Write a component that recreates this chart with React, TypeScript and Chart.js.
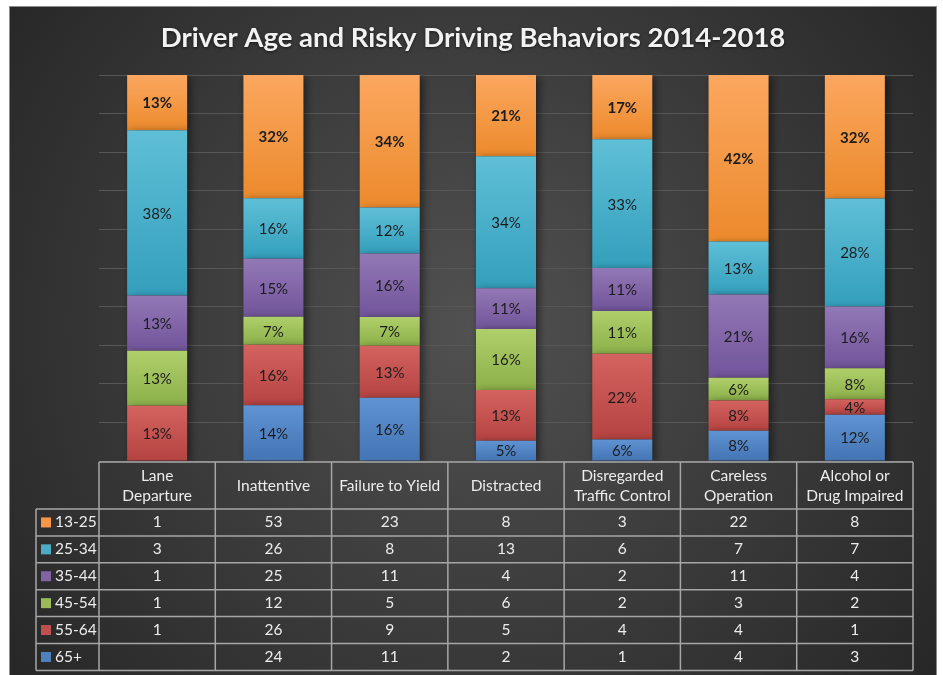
import React, { useEffect, useRef } from "react";
import { Chart, registerables } from "chart.js";

Chart.register(...registerables);

const chartTitle = "Driver Age and Risky Driving Behaviors 2014-2018";

const categories: string[][] = [
  ["Lane", "Departure"],
  ["Inattentive"],
  ["Failure to Yield"],
  ["Distracted"],
  ["Disregarded", "Traffic Control"],
  ["Careless", "Operation"],
  ["Alcohol or", "Drug Impaired"],
];

const ageGroups = ["13-25", "25-34", "35-44", "45-54", "55-64", "65+"];

const counts13_25: (number | null)[] = [1, 53, 23, 8, 3, 22, 8];
const counts25_34: (number | null)[] = [3, 26, 8, 13, 6, 7, 7];
const counts35_44: (number | null)[] = [1, 25, 11, 4, 2, 11, 4];
const counts45_54: (number | null)[] = [1, 12, 5, 6, 2, 3, 2];
const counts55_64: (number | null)[] = [1, 26, 9, 5, 4, 4, 1];
const counts65plus: (number | null)[] = [null, 24, 11, 2, 1, 4, 3];

const pctLabels13_25 = ["13%", "32%", "34%", "21%", "17%", "42%", "32%"];
const pctLabels25_34 = ["38%", "16%", "12%", "34%", "33%", "13%", "28%"];
const pctLabels35_44 = ["13%", "15%", "16%", "11%", "11%", "21%", "16%"];
const pctLabels45_54 = ["13%", "7%", "7%", "16%", "11%", "6%", "8%"];
const pctLabels55_64 = ["13%", "16%", "13%", "13%", "22%", "8%", "4%"];
const pctLabels65plus = ["", "14%", "16%", "5%", "6%", "8%", "12%"];

// table order (top to bottom)
const seriesCounts = [counts13_25, counts25_34, counts35_44, counts45_54, counts55_64, counts65plus];
const seriesLabels = [pctLabels13_25, pctLabels25_34, pctLabels35_44, pctLabels45_54, pctLabels55_64, pctLabels65plus];
const baseColors = ["#f79646", "#4bacc6", "#8064a2", "#9bbb59", "#c0504d", "#4f81bd"];
const topColors = ["#fba75f", "#5fbfd7", "#9378b6", "#afcf6a", "#d4625f", "#5f93d2"];
const bottomColors = ["#ec8a2c", "#349fbc", "#71549a", "#8cb04a", "#b54341", "#4374b4"];

const totals = categories.map((_, i) =>
  seriesCounts.reduce((s, arr) => s + (arr[i] ?? 0), 0)
);
const percents = seriesCounts.map((arr) =>
  arr.map((v, i) => (v == null ? null : (v / totals[i]) * 100))
);

const FONT = "Lato, 'Open Sans', sans-serif";

export default function App() {
  const ref = useRef<HTMLCanvasElement>(null);

  useEffect(() => {
    if (!ref.current) return;
    // stack order: bottom first => reverse of table order
    const order = [5, 4, 3, 2, 1, 0];

    const datasets = order.map((s, di) => ({
      label: ageGroups[s],
      data: percents[s],
      backgroundColor: (ctx: any) => {
        const chart = ctx.chart;
        const y = chart.scales?.y;
        if (!y || ctx.type !== "data") return baseColors[s];
        const i = ctx.dataIndex;
        let start = 0;
        for (let k = 0; k < di; k++) start += percents[order[k]][i] ?? 0;
        const end = start + (percents[s][i] ?? 0);
        const top = y.getPixelForValue(end);
        const bottom = y.getPixelForValue(start);
        if (!isFinite(top) || !isFinite(bottom) || top === bottom) return baseColors[s];
        const g = chart.ctx.createLinearGradient(0, top, 0, bottom);
        g.addColorStop(0, topColors[s]);
        g.addColorStop(1, bottomColors[s]);
        return g;
      },
      borderWidth: 0,
      barPercentage: 0.516,
      categoryPercentage: 1,
      seriesIndex: s,
    }));

    const customPlugin = {
      id: "custom",
      beforeDraw(chart: any) {
        const { ctx, width, height } = chart;
        ctx.save();
        const g = ctx.createRadialGradient(width / 2, height * 0.48, 0, width / 2, height * 0.48, width * 0.62);
        g.addColorStop(0, "#515151");
        g.addColorStop(1, "#272727");
        ctx.fillStyle = g;
        ctx.fillRect(0, 0, width, height);
        ctx.strokeStyle = "#8a8a8a";
        ctx.lineWidth = 1;
        ctx.strokeRect(0.5, 0.5, width - 1, height + 5);
        ctx.restore();
      },
      beforeDatasetsDraw(chart: any) {
        const ctx = chart.ctx;
        ctx.save();
        ctx.shadowColor = "rgba(0,0,0,0.5)";
        ctx.shadowBlur = 8;
        ctx.shadowOffsetX = 3;
        ctx.shadowOffsetY = 2;
      },
      afterDatasetsDraw(chart: any) {
        const ctx = chart.ctx;
        ctx.restore();
        ctx.save();
        ctx.textAlign = "center";
        ctx.textBaseline = "middle";
        chart.data.datasets.forEach((ds: any, di: number) => {
          const s = ds.seriesIndex;
          const meta = chart.getDatasetMeta(di);
          meta.data.forEach((el: any, i: number) => {
            const txt = seriesLabels[s][i];
            if (!txt || percents[s][i] == null) return;
            const cy = (el.y + el.base) / 2;
            ctx.font = (s === 0 ? "bold " : "") + "15px " + FONT;
            ctx.fillStyle = "#1c1c1c";
            ctx.fillText(txt, el.x, cy + 1);
          });
        });
        ctx.restore();
      },
      afterDraw(chart: any) {
        const { ctx, chartArea } = chart;
        const x = chart.scales.x;
        ctx.save();
        // title
        ctx.font = "bold 27.5px " + FONT;
        ctx.fillStyle = "#f2f2f2";
        ctx.textAlign = "center";
        ctx.textBaseline = "middle";
        ctx.shadowColor = "rgba(0,0,0,0.6)";
        ctx.shadowBlur = 3;
        ctx.shadowOffsetY = 1;
        ctx.fillText(chartTitle, chart.width / 2, 32);
        ctx.shadowColor = "transparent";

        // data table
        const n = categories.length;
        const colW = (chartArea.right - chartArea.left) / n;
        const tTop = chartArea.bottom + 1;
        const headerBottom = tTop + 47;
        const rowH = 26.9;
        const tBottom = headerBottom + rowH * seriesCounts.length;
        const legLeft = chartArea.left - 63;
        const left = chartArea.left;
        const right = chartArea.right;

        ctx.strokeStyle = "#a6a6a6";
        ctx.lineWidth = 1.5;
        ctx.beginPath();
        ctx.moveTo(left, tTop);
        ctx.lineTo(right, tTop);
        for (let r = 0; r <= seriesCounts.length; r++) {
          const yy = headerBottom + r * rowH;
          ctx.moveTo(legLeft, yy);
          ctx.lineTo(right, yy);
        }
        ctx.moveTo(legLeft, headerBottom);
        ctx.lineTo(legLeft, tBottom);
        for (let c = 0; c <= n; c++) {
          const xx = c < n ? x.getPixelForValue(c) - colW / 2 : x.getPixelForValue(n - 1) + colW / 2;
          ctx.moveTo(xx, tTop);
          ctx.lineTo(xx, tBottom);
        }
        ctx.stroke();

        ctx.fillStyle = "#ececec";
        ctx.font = "15.5px " + FONT;
        ctx.textAlign = "center";
        ctx.textBaseline = "middle";
        const hMid = (tTop + headerBottom) / 2;
        categories.forEach((lines, c) => {
          const cx = x.getPixelForValue(c);
          if (lines.length === 1) {
            ctx.fillText(lines[0], cx, hMid);
          } else {
            ctx.fillText(lines[0], cx, hMid - 10);
            ctx.fillText(lines[1], cx, hMid + 10);
          }
        });
        seriesCounts.forEach((arr, r) => {
          const cy = headerBottom + r * rowH + rowH / 2;
          arr.forEach((v, c) => {
            if (v == null) return;
            ctx.fillText(String(v), x.getPixelForValue(c), cy);
          });
          ctx.fillStyle = baseColors[r];
          ctx.fillRect(legLeft + 5, cy - 5, 10, 10);
          ctx.fillStyle = "#ececec";
          ctx.textAlign = "left";
          ctx.fillText(ageGroups[r], legLeft + 19, cy);
          ctx.textAlign = "center";
        });
        ctx.restore();
      },
    };

    const chart = new Chart(ref.current, {
      type: "bar",
      data: { labels: categories.map((c) => c.join(" ")), datasets: datasets as any },
      options: {
        responsive: false,
        animation: false,
        layout: { padding: { left: 90, right: 24, top: 69, bottom: 214 } },
        plugins: { legend: { display: false }, tooltip: { enabled: false }, title: { display: false } },
        scales: {
          x: { stacked: true, display: false },
          y: {
            stacked: true,
            min: 0,
            max: 100,
            ticks: { display: false, stepSize: 10 },
            grid: { color: "#575757", drawTicks: false, lineWidth: 1 },
            border: { display: false },
          },
        },
      },
      plugins: [customPlugin],
    });
    return () => chart.destroy();
  }, []);

  return (
    <div style={{ position: "absolute", left: 9, top: 6, width: 928, height: 669 }}>
      <canvas ref={ref} width={928} height={669} style={{ display: "block" }} />
    </div>
  );
}
